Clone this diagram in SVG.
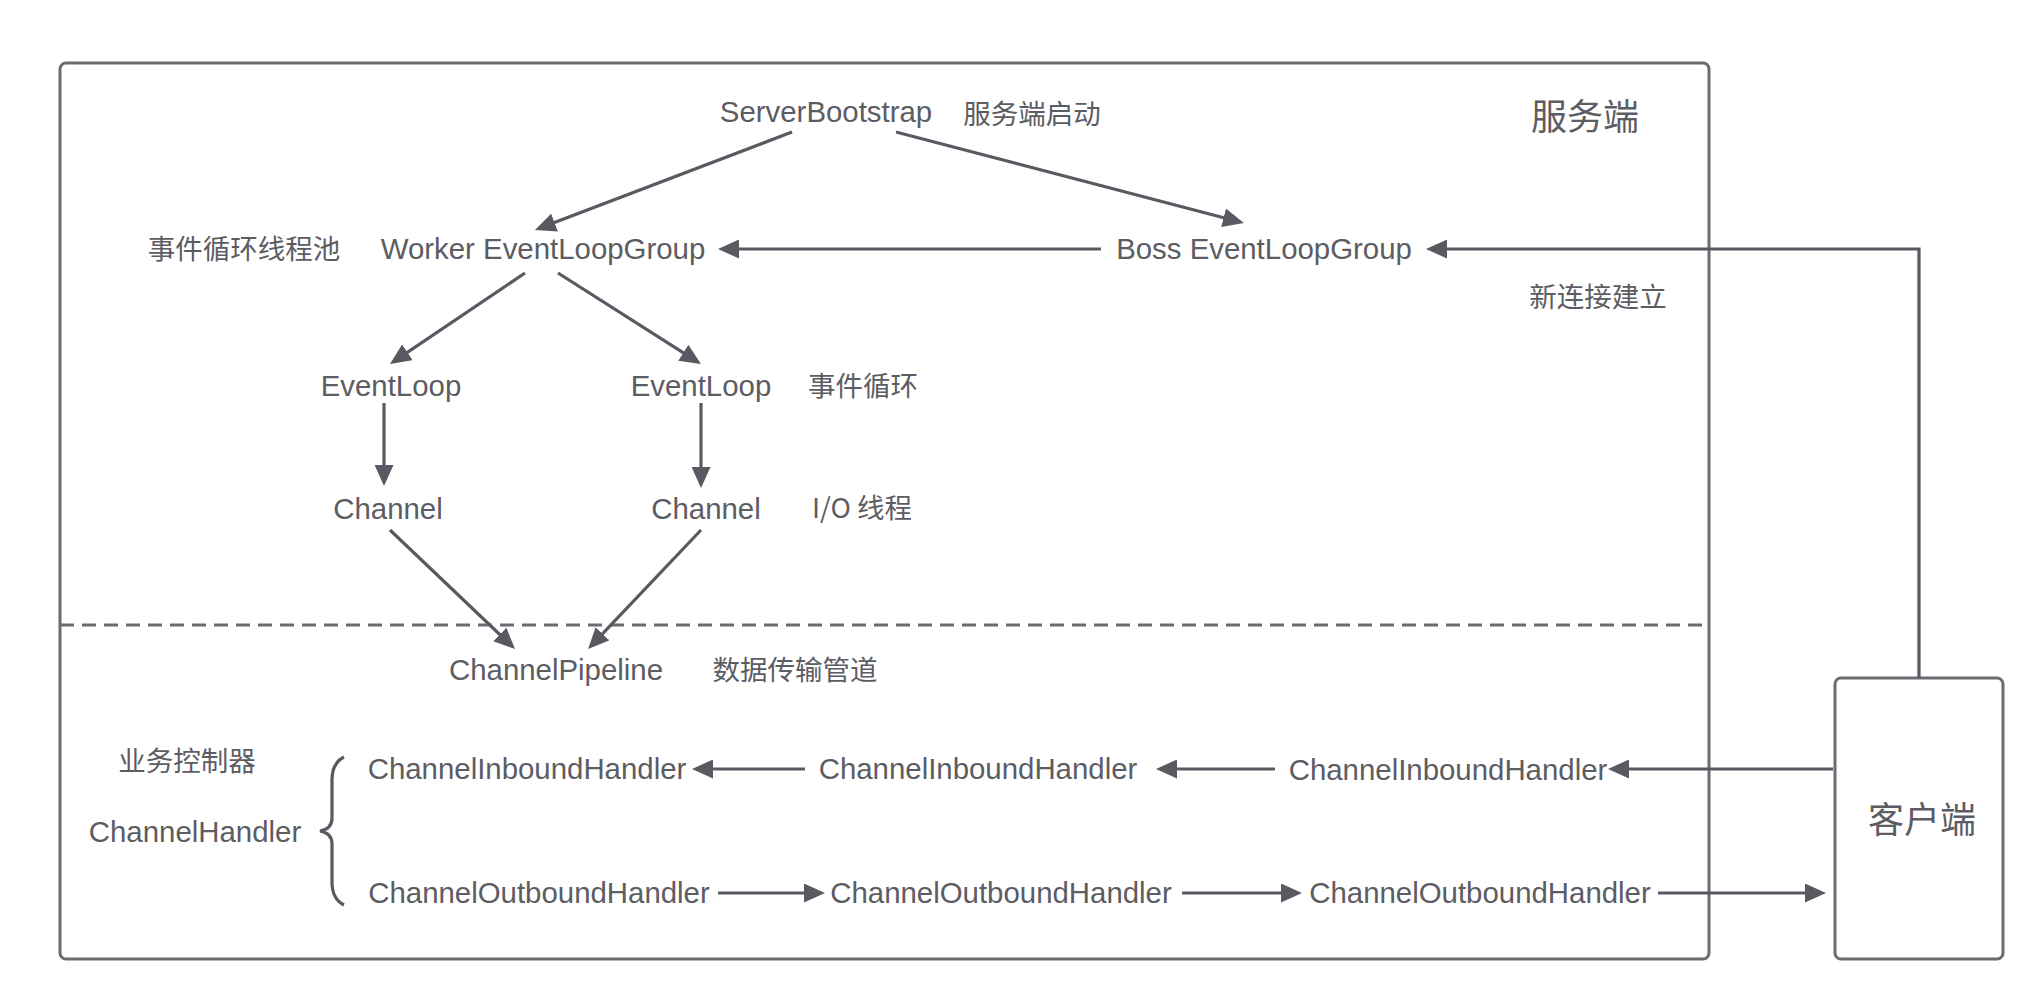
<svg xmlns="http://www.w3.org/2000/svg" width="2036" height="988" viewBox="0 0 2036 988">
<style>
.t{font-family:"Liberation Sans","Noto Sans CJK SC",sans-serif;font-size:29.4px;fill:#5c5c63;text-anchor:middle}
.c{font-family:"Noto Sans CJK SC",sans-serif;font-size:27.5px;fill:#5c5c63;text-anchor:middle}
.big{font-family:"Noto Sans CJK SC",sans-serif;font-size:36px;fill:#5c5c63;text-anchor:middle}
.ln{stroke:#595962;stroke-width:3.2;fill:none}
.box{stroke:#6b6b72;stroke-width:3;fill:#fff}
</style>
<defs>
<marker id="ah" viewBox="0 0 21 19" refX="17" refY="9.5" markerWidth="21" markerHeight="19" markerUnits="userSpaceOnUse" orient="auto">
<path d="M0,0 L21,9.5 L0,19 Z" fill="#595962"/>
</marker>
</defs>
<rect width="2036" height="988" fill="#fff"/>
<g id="server">
<rect class="box" x="60" y="63" width="1649" height="896" rx="6"/>
<text class="big" x="1585" y="130">服务端</text>
</g>
<g id="client">
<rect class="box" x="1835" y="678" width="168" height="281" rx="6"/>
<text class="big" x="1922" y="833">客户端</text>
</g>
<line id="divider" x1="60" y1="625" x2="1709" y2="625" stroke="#6b6b72" stroke-width="3" stroke-dasharray="14 8"/>
<g id="serverBootstrap"><text class="t" x="826" y="122">ServerBootstrap</text><text class="c" x="1032" y="124">服务端启动</text></g>
<g id="workerGroup"><text class="c" x="244" y="259">事件循环线程池</text><text class="t" x="543" y="259">Worker EventLoopGroup</text></g>
<g id="bossGroup"><text class="t" x="1264" y="259">Boss EventLoopGroup</text><text class="c" x="1598" y="307">新连接建立</text></g>
<g id="eventLoop1"><text class="t" x="391" y="396">EventLoop</text></g>
<g id="eventLoop2"><text class="t" x="701" y="396">EventLoop</text><text class="c" x="863" y="396">事件循环</text></g>
<g id="channel1"><text class="t" x="388" y="519">Channel</text></g>
<g id="channel2"><text class="t" x="706" y="519">Channel</text><text class="c" x="862" y="518">I/O 线程</text></g>
<g id="pipeline"><text class="t" x="556" y="680">ChannelPipeline</text><text class="c" x="795" y="680">数据传输管道</text></g>
<g id="channelHandler">
<text class="c" x="187" y="771">业务控制器</text>
<text class="t" x="195" y="842">ChannelHandler</text>
<path class="ln" d="M344,757 Q332,763 332,780 L332,818 Q332,829 320,831 Q332,833 332,844 L332,882 Q332,899 344,905"/>
</g>
<g id="inbound1"><text class="t" x="527" y="779">ChannelInboundHandler</text></g>
<g id="inbound2"><text class="t" x="978" y="779">ChannelInboundHandler</text></g>
<g id="inbound3"><text class="t" x="1448" y="780">ChannelInboundHandler</text></g>
<g id="outbound1"><text class="t" x="539" y="903">ChannelOutboundHandler</text></g>
<g id="outbound2"><text class="t" x="1001" y="903">ChannelOutboundHandler</text></g>
<g id="outbound3"><text class="t" x="1480" y="903">ChannelOutboundHandler</text></g>
<g id="connectors">
<line class="ln" x1="792" y1="132" x2="538.7" y2="228.6" marker-end="url(#ah)"/>
<line class="ln" x1="896" y1="132" x2="1240" y2="222" marker-end="url(#ah)"/>
<line class="ln" x1="1101" y1="249" x2="722" y2="249" marker-end="url(#ah)"/>
<polyline class="ln" points="1919,678 1919,249 1430,249" marker-end="url(#ah)"/>
<line class="ln" x1="525" y1="273" x2="393.3" y2="361.8" marker-end="url(#ah)"/>
<line class="ln" x1="558" y1="273" x2="697.6" y2="361.9" marker-end="url(#ah)"/>
<line class="ln" x1="384" y1="403" x2="384" y2="482" marker-end="url(#ah)"/>
<line class="ln" x1="701" y1="403" x2="701" y2="484" marker-end="url(#ah)"/>
<line class="ln" x1="390" y1="530" x2="512.1" y2="646.2" marker-end="url(#ah)"/>
<line class="ln" x1="701" y1="530" x2="590.8" y2="646.1" marker-end="url(#ah)"/>
<line class="ln" x1="1833" y1="769" x2="1612" y2="769" marker-end="url(#ah)"/>
<line class="ln" x1="1275" y1="769" x2="1160" y2="769" marker-end="url(#ah)"/>
<line class="ln" x1="805" y1="769" x2="696" y2="769" marker-end="url(#ah)"/>
<line class="ln" x1="718" y1="893" x2="821" y2="893" marker-end="url(#ah)"/>
<line class="ln" x1="1182" y1="893" x2="1298" y2="893" marker-end="url(#ah)"/>
<line class="ln" x1="1658" y1="893" x2="1822" y2="893" marker-end="url(#ah)"/>
</g>
</svg>
